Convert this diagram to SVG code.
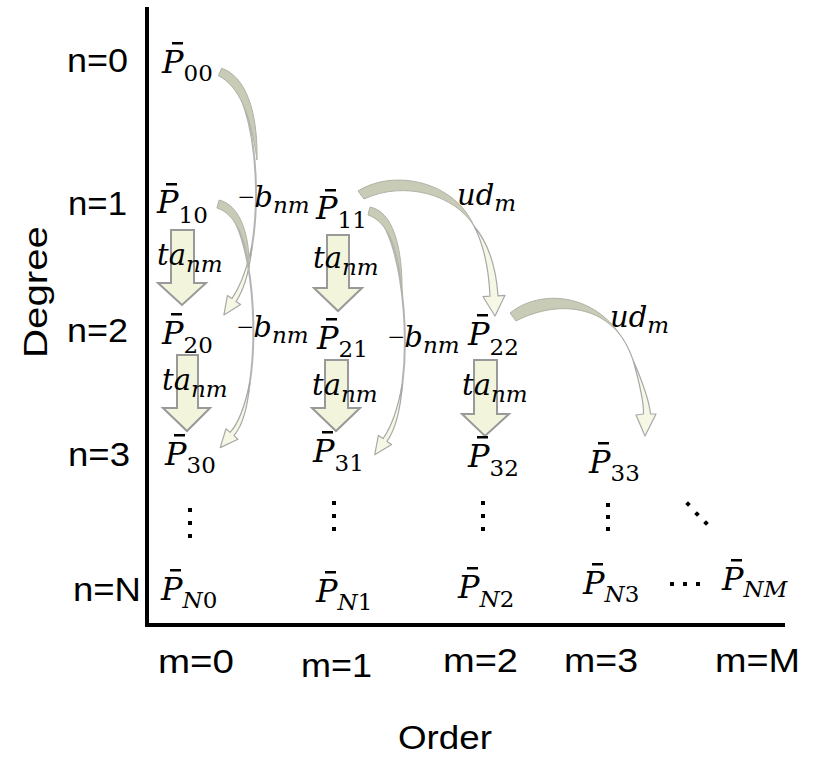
<svg xmlns="http://www.w3.org/2000/svg" width="813" height="757" viewBox="0 0 813 757">
<style>
.ax{font-family:"Liberation Sans",Arial,sans-serif;font-size:34px;fill:#000}
.mt{font-family:"DejaVu Serif","Liberation Serif",serif;font-style:italic;font-size:29px;fill:#000}
.pn{font-size:32px}
.up{font-style:normal}
.mn{font-family:"Liberation Serif",serif;font-style:normal}
.sb{font-size:23px}
.bar{fill:#000}
.dot{fill:#000}
.blk{fill:#F2F4DC;stroke:#999;stroke-width:2}
.dk{fill:#C8CBB6;stroke:#B0B2A6;stroke-width:1}
.pl{fill:#F6F7E4;stroke:#A8A8A8;stroke-width:1.2;stroke-linejoin:round}
.ln{fill:none;stroke:#B4B4B4;stroke-width:2}
.axis{stroke:#000;stroke-width:4;fill:none}
</style>

<g id="axes">
<line class="axis" x1="147" y1="7" x2="147" y2="627"/>
<line class="axis" x1="145" y1="625" x2="785" y2="625"/>
</g>

<g id="connectors">
<polygon class="blk" points="171,230 194,230 194,283 206,283 182,305 158,283 171,283"/>
<polygon class="blk" points="177,355 198,355 198,408 210,408 187,431 163,408 177,408"/>
<polygon class="blk" points="327,235 349,235 349,288 362,288 338,311 314,288 327,288"/>
<polygon class="blk" points="325,360 348,360 348,408 360,408 336,431 312,408 325,408"/>
<polygon class="blk" points="474,360 497,360 497,414 509,414 485,436 462,414 474,414"/>

<path class="ln" d="M220,72 C262,90 268,250 234,300"/>
<path class="dk" d="M221.6,68.3 C245,76 258,110 257,160 C251,115 239,86 218.4,75.7 Z"/>
<path class="pl" d="M252,246 Q248.5,282.5 236.1,301.4 L240.6,304.5 L223.9,314.9 L227.4,295.5 L231.9,298.6 Q244,281.3 252,246 Z"/>

<path class="ln" d="M218,204 C258,215 266,395 232,434"/>
<path class="dk" d="M219.1,200.1 C240,205 250,235 249,268 C246,240 236,214 216.9,207.9 Z"/>
<path class="pl" d="M249.8,383 Q246.5,421 233.9,435.6 L238,439.3 L220.2,447.6 L226,428.7 L230.1,432.4 Q242,419.5 249.8,383 Z"/>

<path class="ln" d="M369,211 C405,220 420,390 385,440"/>
<path class="dk" d="M370,207.1 C392,211 403,245 402,295 C399,248 388,222 368,214.9 Z"/>
<path class="pl" d="M402.3,384.3 Q399.5,423.5 387,441.4 L391.6,444.6 L374.7,454.8 L378.4,435.4 L383,438.6 Q395.5,421 402.3,384.3 Z"/>

<path class="dk" d="M358,191 C395,168 455,182 474,226 C455,195 405,180 364,199 Z"/>
<path class="pl" d="M474,226 Q495,251 498,295.8 L505,295.3 L495,316 L483,296.7 L490,296.2 Q488,253 474,226 Z"/>

<path class="dk" d="M510,313 C545,285 610,295 633,360 C615,305 560,298 516,321 Z"/>
<path class="pl" d="M633,360 Q649,397 650.5,414 L656,414 L645,436 L636,415 L643.5,414 Q644,399 633,360 Z"/>
</g>

<g id="edge-labels">
<text class="mt" x="157" y="265">ta<tspan class="sb" dy="7">nm</tspan></text>
<text class="mt" x="162" y="390">ta<tspan class="sb" dy="7">nm</tspan></text>
<text class="mt" x="313" y="268">ta<tspan class="sb" dy="7">nm</tspan></text>
<text class="mt" x="312" y="395">ta<tspan class="sb" dy="7">nm</tspan></text>
<text class="mt" x="462" y="395">ta<tspan class="sb" dy="7">nm</tspan></text>
<text class="mt" x="238" y="207"><tspan class="mn">−</tspan>b<tspan class="sb" dy="6">nm</tspan></text>
<text class="mt" x="237" y="337"><tspan class="mn">−</tspan>b<tspan class="sb" dy="6">nm</tspan></text>
<text class="mt" x="388" y="347"><tspan class="mn">−</tspan>b<tspan class="sb" dy="6">nm</tspan></text>
<text class="mt" x="457" y="205">ud<tspan class="sb" dy="6">m</tspan></text>
<text class="mt" x="610" y="327">ud<tspan class="sb" dy="6">m</tspan></text>
</g>

<g id="P00"><rect class="bar" x="172" y="42" width="11" height="2.5"/><text class="mt pn" x="162" y="73">P<tspan class="sb up" dy="8">00</tspan></text></g>
<g id="P10"><rect class="bar" x="166" y="183" width="11" height="2.5"/><text class="mt pn" x="157" y="213">P<tspan class="sb up" dy="10">10</tspan></text></g>
<g id="P11"><rect class="bar" x="325" y="189" width="11" height="2.5"/><text class="mt pn" x="316" y="219">P<tspan class="sb up" dy="9">11</tspan></text></g>
<g id="P20"><rect class="bar" x="171" y="313" width="11" height="2.5"/><text class="mt pn" x="162" y="344">P<tspan class="sb up" dy="9">20</tspan></text></g>
<g id="P21"><rect class="bar" x="326" y="318" width="11" height="2.5"/><text class="mt pn" x="317" y="349">P<tspan class="sb up" dy="8">21</tspan></text></g>
<g id="P22"><rect class="bar" x="477" y="314" width="11" height="2.5"/><text class="mt pn" x="468" y="345">P<tspan class="sb up" dy="10">22</tspan></text></g>
<g id="P30"><rect class="bar" x="174" y="434" width="11" height="2.5"/><text class="mt pn" x="165" y="465">P<tspan class="sb up" dy="8">30</tspan></text></g>
<g id="P31"><rect class="bar" x="322" y="431" width="11" height="2.5"/><text class="mt pn" x="313" y="462">P<tspan class="sb up" dy="9">31</tspan></text></g>
<g id="P32"><rect class="bar" x="477" y="436" width="11" height="2.5"/><text class="mt pn" x="468" y="467">P<tspan class="sb up" dy="9">32</tspan></text></g>
<g id="P33"><rect class="bar" x="598" y="442" width="11" height="2.5"/><text class="mt pn" x="589" y="473">P<tspan class="sb up" dy="8">33</tspan></text></g>
<g id="PN0"><rect class="bar" x="170" y="569" width="11" height="2.5"/><text class="mt pn" x="161" y="600">P<tspan class="sb" dy="8">N</tspan><tspan class="sb up">0</tspan></text></g>
<g id="PN1"><rect class="bar" x="325" y="571" width="11" height="2.5"/><text class="mt pn" x="316" y="602">P<tspan class="sb" dy="8">N</tspan><tspan class="sb up">1</tspan></text></g>
<g id="PN2"><rect class="bar" x="467" y="567" width="11" height="2.5"/><text class="mt pn" x="458" y="598">P<tspan class="sb" dy="9">N</tspan><tspan class="sb up">2</tspan></text></g>
<g id="PN3"><rect class="bar" x="592" y="563" width="11" height="2.5"/><text class="mt pn" x="583" y="594">P<tspan class="sb" dy="8">N</tspan><tspan class="sb up">3</tspan></text></g>
<g id="PNM"><rect class="bar" x="731" y="559" width="11" height="2.5"/><text class="mt pn" x="722" y="590">P<tspan class="sb" dy="7">NM</tspan></text></g>

<g id="ellipses">
<rect class="dot" x="188" y="508" width="4" height="4"/><rect class="dot" x="188" y="521" width="4" height="4"/><rect class="dot" x="188" y="534" width="4" height="4"/>
<rect class="dot" x="332" y="501" width="4" height="4"/><rect class="dot" x="332" y="514" width="4" height="4"/><rect class="dot" x="332" y="527" width="4" height="4"/>
<rect class="dot" x="481" y="501" width="4" height="4"/><rect class="dot" x="481" y="514" width="4" height="4"/><rect class="dot" x="481" y="527" width="4" height="4"/>
<rect class="dot" x="606" y="503" width="4" height="4"/><rect class="dot" x="606" y="515" width="4" height="4"/><rect class="dot" x="606" y="527" width="4" height="4"/>
<rect class="dot" x="686" y="502" width="4" height="4" transform="rotate(45 688 504)"/><rect class="dot" x="695" y="512" width="4" height="4" transform="rotate(45 697 514)"/><rect class="dot" x="704" y="521" width="4" height="4" transform="rotate(45 706 523)"/>
<rect class="dot" x="670" y="582" width="4" height="4"/><rect class="dot" x="683" y="582" width="4" height="4"/><rect class="dot" x="696" y="582" width="4" height="4"/>
</g>

<g id="axis-labels">
<text class="ax" x="67" y="72" textLength="61" lengthAdjust="spacingAndGlyphs">n=0</text>
<text class="ax" x="68" y="215" textLength="59" lengthAdjust="spacingAndGlyphs">n=1</text>
<text class="ax" x="67" y="342" textLength="61" lengthAdjust="spacingAndGlyphs">n=2</text>
<text class="ax" x="68" y="466" textLength="62" lengthAdjust="spacingAndGlyphs">n=3</text>
<text class="ax" x="73" y="601" textLength="68" lengthAdjust="spacingAndGlyphs">n=N</text>
<text class="ax" x="158" y="673" textLength="76" lengthAdjust="spacingAndGlyphs">m=0</text>
<text class="ax" x="301" y="677" textLength="71" lengthAdjust="spacingAndGlyphs">m=1</text>
<text class="ax" x="443" y="672" textLength="75" lengthAdjust="spacingAndGlyphs">m=2</text>
<text class="ax" x="564" y="672" textLength="74" lengthAdjust="spacingAndGlyphs">m=3</text>
<text class="ax" x="715" y="672" textLength="85" lengthAdjust="spacingAndGlyphs">m=M</text>
<text class="ax" x="398" y="749" font-size="33" textLength="94" lengthAdjust="spacingAndGlyphs">Order</text>
<text class="ax" transform="translate(47,292) rotate(-90)" text-anchor="middle" textLength="132" lengthAdjust="spacingAndGlyphs">Degree</text>
</g>
</svg>
